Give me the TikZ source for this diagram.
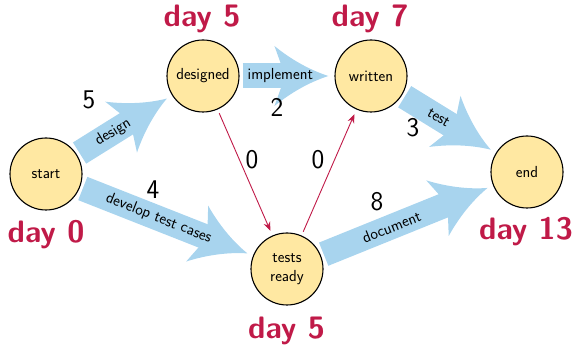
\documentclass[tikz,border=0pt]{standalone}
\usetikzlibrary{arrows.meta}
\definecolor{arrowblue}{RGB}{168,212,238}
\definecolor{nodefill}{RGB}{255,232,162}
\definecolor{dayred}{RGB}{192,26,72}

\pgfdeclarearrow{
  name = FatHead,
  parameters = {\the\pgfarrowlength,\the\pgfarrowwidth},
  setup code = {
    \pgfarrowssettipend{0pt}
    \pgfarrowssetbackend{-\pgfarrowlength}
    \pgfarrowssetlineend{-.6\pgfarrowlength}
    \pgfarrowssavethe\pgfarrowlength
    \pgfarrowssavethe\pgfarrowwidth
  },
  drawing code = {
    \pgfpathmoveto{\pgfqpoint{0pt}{0pt}}
    \pgfpathcurveto{\pgfqpoint{-.35\pgfarrowlength}{.1\pgfarrowwidth}}{\pgfqpoint{-.7\pgfarrowlength}{.28\pgfarrowwidth}}{\pgfqpoint{-\pgfarrowlength}{.5\pgfarrowwidth}}
    \pgfpathlineto{\pgfqpoint{-.8\pgfarrowlength}{0pt}}
    \pgfpathlineto{\pgfqpoint{-\pgfarrowlength}{-.5\pgfarrowwidth}}
    \pgfpathcurveto{\pgfqpoint{-.7\pgfarrowlength}{-.28\pgfarrowwidth}}{\pgfqpoint{-.35\pgfarrowlength}{-.1\pgfarrowwidth}}{\pgfqpoint{0pt}{0pt}}
    \pgfpathclose
    \pgfusepathqfill
  },
  defaults = {length = 54pt, width = 60pt}
}

\begin{document}
\begin{tikzpicture}[x=1pt,y=-1pt,
  event/.style={circle,draw=black,line width=1.1pt,fill=nodefill,minimum size=72pt,inner sep=0pt,align=center,font=\sffamily\fontsize{16}{19.5}\selectfont},
  task/.style={draw=arrowblue,line width=25pt,-{FatHead[length=54pt,width=60pt]},shorten <=3pt,shorten >=6pt},
  tasklabel/.style={sloped,font=\sffamily\fontsize{16}{19}\selectfont,text=black},
  dummy/.style={draw=dayred,line width=0.9pt,-{Stealth[length=9pt,width=7pt]},shorten <=4pt,shorten >=5pt},
  weight/.style={font=\sffamily\fontsize{27}{31}\selectfont},
  day/.style={font=\sffamily\bfseries\fontsize{31}{35}\selectfont,text=dayred,anchor=base}
]
\useasboundingbox (0,0) rectangle (576,347);

\node[event] (start) at (46,174) {start};
\node[event] (designed) at (203,76) {designed};
\node[event] (written) at (371,76) {written};
\node[event] (end) at (527,172) {end};
\node[event] (tests) at (287,269) {tests\\ready};

\draw[task] (start) -- (designed) node[tasklabel,pos=.38] (ldesign) {design};
\draw[task] (designed) -- (written) node[tasklabel,pos=.43] (limpl) {implement};
\draw[task] (written) -- (end) node[tasklabel,pos=.39] (ltest) {test};
\draw[task] (start) -- (tests) node[tasklabel,pos=.455] (ldev) {develop test cases};
\draw[task] (tests) -- (end) node[tasklabel,pos=.41] (ldoc) {document};

\draw[dummy] (designed) -- (tests);
\draw[dummy] (tests) -- (written);

\node[weight] (w1) at (89,100) {5};
\node[weight] (w2) at (277,107) {2};
\node[weight] (w3) at (413,128) {3};
\node[weight] (w4) at (153,190) {4};
\node[weight] (w5) at (377,202) {8};
\node[weight] (w6) at (252,160) {0};
\node[weight] (w7) at (318,160) {0};

\node[day] (d1) at (202,27) {day 5};
\node[day] (d2) at (370,27) {day 7};
\node[day] (d3) at (46,243) {day 0};
\node[day] (d4) at (526,240) {day 13};
\node[day] (d5) at (286.5,339) {day 5};
\end{tikzpicture}
\end{document}
